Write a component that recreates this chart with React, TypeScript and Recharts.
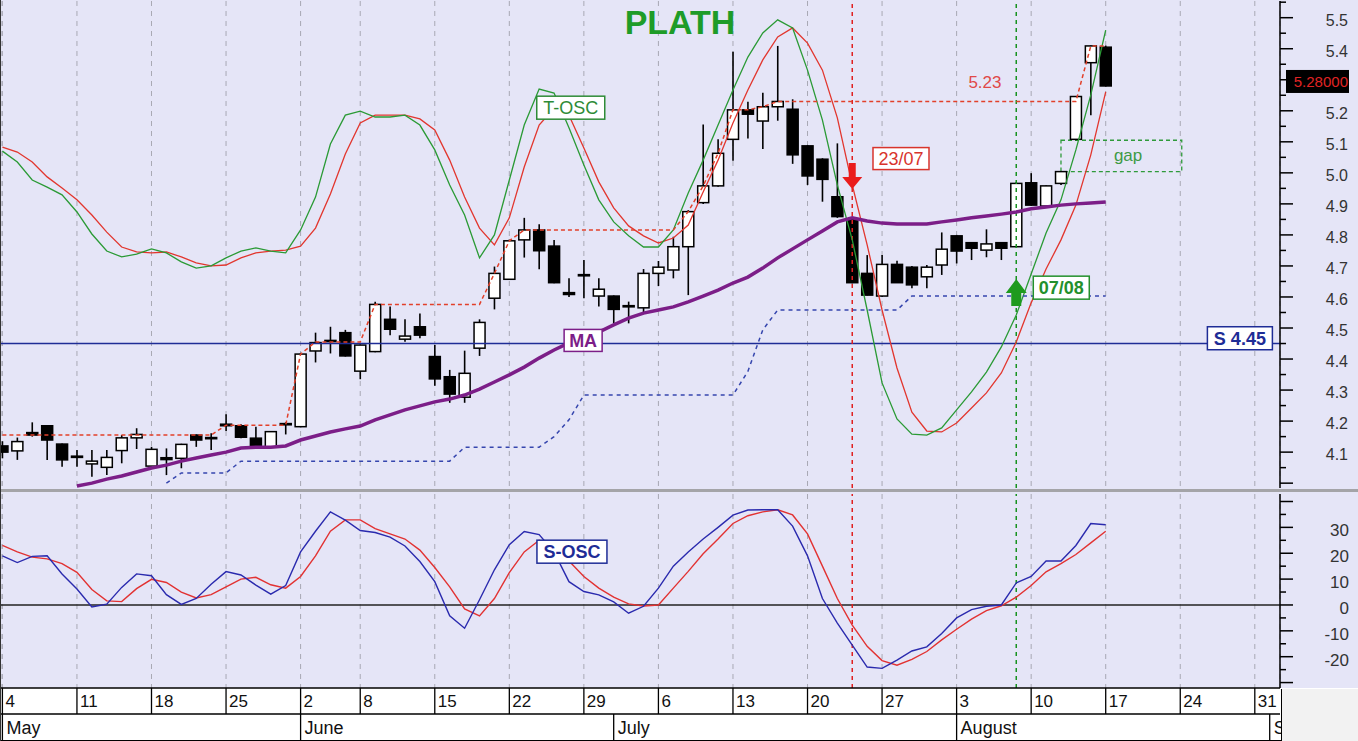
import React from 'react';
import {
  ComposedChart, Bar, Line, XAxis, YAxis, CartesianGrid,
  ReferenceLine, ReferenceDot, ReferenceArea,
} from 'recharts';

const FONT = '"Liberation Sans", Arial, Helvetica, sans-serif';
const BG = '#E5E5F7';

// trading-day index 0 = Mon 4 May
const dayTicks = [0, 5, 10, 15, 20, 24, 29, 34, 39, 44, 49, 54, 59, 64, 69, 74, 79, 84];
const dayLabels = ['4', '11', '18', '25', '2', '8', '15', '22', '29', '6', '13', '20', '27', '3', '10', '17', '24', '31'];
const monthTicks = [0, 20, 41, 64, 85];
const monthLabels = ['May', 'June', 'July', 'August', 'September'];

const opens = [4.12, 4.104, 4.163, 4.185, 4.126, 4.087, 4.062, 4.051, 4.105, 4.146,
  4.055, 4.082, 4.08, 4.155, 4.147, 4.19, 4.185, 4.145, 4.117, 4.188,
  4.182, 4.426, 4.457, 4.485, 4.361, 4.424, 4.528, 4.464, 4.504, 4.408,
  4.343, 4.277, 4.435, 4.596, 4.657, 4.784, 4.816, 4.764, 4.614, 4.67,
  4.603, 4.603, 4.572, 4.565, 4.676, 4.687, 4.762, 4.904, 4.958, 5.108,
  5.203, 5.167, 5.213, 5.205, 5.087, 5.044, 4.923, 4.85, 4.676, 4.603,
  4.705, 4.696, 4.665, 4.703, 4.797, 4.775, 4.751, 4.775, 4.762, 4.968,
  4.893, 4.966, 5.108, 5.355, 5.405];
const highs = [4.135, 4.147, 4.196, 4.187, 4.128, 4.107, 4.107, 4.107, 4.155, 4.177,
  4.117, 4.112, 4.127, 4.157, 4.161, 4.222, 4.19, 4.182, 4.168, 4.196,
  4.42, 4.485, 4.504, 4.494, 4.447, 4.585, 4.569, 4.528, 4.547, 4.445,
  4.365, 4.427, 4.528, 4.698, 4.785, 4.855, 4.834, 4.784, 4.66, 4.719,
  4.66, 4.605, 4.585, 4.69, 4.716, 4.794, 4.88, 5.156, 5.108, 5.39,
  5.229, 5.258, 5.409, 5.237, 5.09, 5.047, 5.095, 4.852, 4.735, 4.735,
  4.717, 4.7, 4.703, 4.808, 4.8, 4.777, 4.818, 4.777, 4.97, 4.999,
  4.96, 5.006, 5.248, 5.41, 5.41];
const lows = [4.08, 4.075, 4.15, 4.075, 4.053, 4.053, 4.021, 4.026, 4.064, 4.11,
  4.053, 4.026, 4.048, 4.117, 4.107, 4.168, 4.145, 4.115, 4.115, 4.157,
  4.18, 4.389, 4.418, 4.408, 4.335, 4.422, 4.477, 4.456, 4.467, 4.314,
  4.259, 4.259, 4.41, 4.56, 4.655, 4.727, 4.689, 4.644, 4.6, 4.596,
  4.569, 4.515, 4.515, 4.55, 4.635, 4.66, 4.606, 4.9, 4.955, 5.039,
  5.111, 5.077, 5.168, 5.029, 4.961, 4.907, 4.855, 4.644, 4.605, 4.6,
  4.645, 4.628, 4.628, 4.671, 4.708, 4.719, 4.728, 4.719, 4.76, 4.894,
  4.89, 4.961, 5.105, 5.186, 5.278];
const closes = [4.1, 4.134, 4.155, 4.139, 4.075, 4.083, 4.071, 4.083, 4.146, 4.157,
  4.109, 4.076, 4.125, 4.139, 4.145, 4.185, 4.148, 4.117, 4.166, 4.192,
  4.416, 4.453, 4.46, 4.41, 4.445, 4.576, 4.496, 4.474, 4.477, 4.336,
  4.287, 4.354, 4.518, 4.676, 4.781, 4.816, 4.749, 4.646, 4.608, 4.672,
  4.625, 4.56, 4.569, 4.676, 4.696, 4.762, 4.875, 4.958, 5.063, 5.203,
  5.189, 5.213, 5.23, 5.058, 4.99, 4.979, 4.859, 4.646, 4.606, 4.705,
  4.646, 4.639, 4.696, 4.754, 4.748, 4.757, 4.771, 4.757, 4.966, 4.896,
  4.958, 5.004, 5.246, 5.409, 5.28];

const maValues = [null, null, null, null, null, 3.991, 4.0, 4.013, 4.023, 4.036,
  4.049, 4.058, 4.071, 4.081, 4.091, 4.1, 4.113, 4.116, 4.116, 4.12,
  4.139, 4.152, 4.165, 4.175, 4.184, 4.204, 4.22, 4.236, 4.249, 4.262,
  4.271, 4.284, 4.303, 4.326, 4.349, 4.374, 4.403, 4.429, 4.452, 4.468,
  4.487, 4.51, 4.532, 4.548, 4.558, 4.568, 4.584, 4.603, 4.622, 4.645,
  4.664, 4.693, 4.726, 4.755, 4.784, 4.813, 4.842, 4.855, 4.845, 4.838,
  4.835, 4.835, 4.835, 4.842, 4.848, 4.855, 4.861, 4.867, 4.874, 4.884,
  4.89, 4.896, 4.9, 4.903, 4.906];

const tOscFast = [5.07, 5.035, 4.977, 4.954, 4.929, 4.874, 4.803, 4.748, 4.729, 4.738,
  4.755, 4.742, 4.713, 4.693, 4.7, 4.726, 4.748, 4.758, 4.748, 4.742,
  4.816, 4.922, 5.093, 5.186, 5.199, 5.18, 5.18, 5.186, 5.154, 5.074,
  4.961, 4.864, 4.726, 4.8, 4.977, 5.154, 5.27, 5.257, 5.145, 5.025,
  4.913, 4.842, 4.797, 4.761, 4.761, 4.816, 4.935, 5.041, 5.154, 5.267,
  5.373, 5.451, 5.493, 5.467, 5.331, 5.17, 4.961, 4.784, 4.558, 4.323,
  4.207, 4.158, 4.155, 4.178, 4.236, 4.294, 4.358, 4.439, 4.542, 4.674,
  4.806, 4.913, 5.074, 5.251, 5.46];
const tOscSlow = [5.083, 5.067, 5.035, 4.987, 4.951, 4.913, 4.864, 4.809, 4.761, 4.745,
  4.742, 4.745, 4.729, 4.71, 4.7, 4.703, 4.726, 4.742, 4.748, 4.751,
  4.764, 4.822, 4.932, 5.061, 5.161, 5.186, 5.186, 5.186, 5.174, 5.138,
  5.041, 4.922, 4.822, 4.768, 4.855, 5.019, 5.154, 5.209, 5.186, 5.08,
  4.971, 4.887, 4.829, 4.797, 4.774, 4.79, 4.832, 4.938, 5.041, 5.161,
  5.267, 5.364, 5.438, 5.467, 5.418, 5.331, 5.177, 4.961, 4.768, 4.558,
  4.371, 4.229, 4.168, 4.165, 4.194, 4.242, 4.291, 4.355, 4.455, 4.581,
  4.69, 4.784, 4.896, 5.058, 5.261];

const resistance = [4.155, 4.155, 4.155, 4.155, 4.155, 4.155, 4.155, 4.155, 4.155, 4.155,
  4.155, 4.155, 4.155, 4.155, 4.155, 4.187, 4.187, 4.187, 4.187, 4.187,
  4.416, 4.455, 4.455, 4.455, 4.455, 4.576, 4.576, 4.576, 4.576, 4.576,
  4.576, 4.576, 4.576, 4.676, 4.781, 4.816, 4.816, 4.816, 4.816, 4.816,
  4.816, 4.816, 4.816, 4.816, 4.816, 4.816, 4.875, 4.958, 5.063, 5.203,
  5.203, 5.213, 5.23, 5.23, 5.23, 5.23, 5.23, 5.23, 5.23, 5.23,
  5.23, 5.23, 5.23, 5.23, 5.23, 5.23, 5.23, 5.23, 5.23, 5.23,
  5.23, 5.23, 5.23, 5.409, 5.409];
const support = [null, null, null, null, null, null, null, null, null, null,
  null, 4.0, 4.033, 4.033, 4.033, 4.033, 4.071, 4.071, 4.071, 4.071,
  4.071, 4.071, 4.071, 4.071, 4.071, 4.071, 4.071, 4.071, 4.071, 4.071,
  4.071, 4.116, 4.116, 4.116, 4.116, 4.116, 4.116, 4.15, 4.204, 4.284,
  4.284, 4.284, 4.284, 4.284, 4.284, 4.284, 4.284, 4.284, 4.284, 4.284,
  4.36, 4.494, 4.558, 4.558, 4.558, 4.558, 4.558, 4.558, 4.558, 4.558,
  4.558, 4.603, 4.603, 4.603, 4.603, 4.603, 4.603, 4.603, 4.603, 4.603,
  4.603, 4.603, 4.603, 4.603, 4.603];

const sOscFast = [19, 16.4, 18.8, 19, 12, 6.2, -0.8, 0.3, 6.8, 12,
  11.3, 4, 0.2, 2.5, 8, 12.9, 11.6, 7.7, 4.2, 7.5,
  20.5, 28.5, 36, 32.8, 28.8, 28, 26.2, 22.8, 16.8, 9,
  -4.2, -9, 2, 13.6, 23.3, 28.4, 27.2, 20.5, 9, 5.2,
  3.9, 1.2, -3.2, -0.5, 6.5, 15, 20.5, 25.5, 30, 34.7,
  36.7, 36.8, 36.8, 30.5, 19, 2.5, -7, -15.5, -24, -24.5,
  -21.3, -17.8, -16.2, -11, -5, -1.8, -0.5, 0, 8.5, 11,
  17, 17, 23, 31.5, 31];
const sOscSlow = [23, 20.5, 18.5, 17.8, 16, 12.6, 6, 1.6, 1.3, 6.3,
  9.9, 8.7, 5, 2.7, 4, 7, 10, 10.7, 7.8, 6.5,
  11, 19, 28.5, 32.9, 32.9, 29.5, 27.5, 25.5, 21.2, 14.5,
  7, -1.5, -4.2, 2.5, 12.5, 20.5, 25, 22.5, 17, 11,
  6.5, 3, 0.4, -0.4, 0, 6.5, 13, 19.8, 25.5, 31.5,
  34.5, 36, 36.8, 34.8, 27.5, 15, 2.5, -7.8, -16, -21.5,
  -23.3, -21, -18, -13.5, -9.4, -5.5, -2.2, -0.3, 3, 7.5,
  12.8, 16, 19.5, 24, 28.5];

const priceTicks = [4.0, 4.05, 4.1, 4.15, 4.2, 4.25, 4.3, 4.35, 4.4, 4.45, 4.5, 4.55, 4.6, 4.65,
  4.7, 4.75, 4.8, 4.85, 4.9, 4.95, 5.0, 5.05, 5.1, 5.15, 5.2, 5.25, 5.3, 5.35, 5.4, 5.45, 5.5, 5.55];
const lastPrice = 5.28;
const oscTicks = [-30, -25, -20, -15, -10, -5, 0, 5, 10, 15, 20, 25, 30, 35, 40];

const X_DOMAIN = [-0.094, 85.69];
const PRICE_DOMAIN = [3.9844, 5.5538];
const OSC_DOMAIN = [-32.1, 42.9];

const data = opens.map((o, i) => ({
  i,
  open: o,
  high: highs[i],
  low: lows[i],
  close: closes[i],
  ma: maValues[i],
  tFast: tOscFast[i],
  tSlow: tOscSlow[i],
  res: resistance[i],
  sup: support[i],
  sFast: sOscFast[i],
  sSlow: sOscSlow[i],
}));

const Candle = (props: any) => {
  let { x, y, width, height, payload } = props;
  if (height < 0) { y += height; height = -height; }
  const { open, close, high, low } = payload;
  const cx = x + width / 2;
  const ppu = height / Math.max(high - low, 1e-6);
  const yOf = (v: number) => y + (high - v) * ppu;
  const top = yOf(Math.max(open, close));
  const bot = yOf(Math.min(open, close));
  const up = close >= open;
  return (
    <g>
      <line x1={cx} x2={cx} y1={y} y2={y + height} stroke="#000" strokeWidth={1.6} />
      <rect x={cx - 5.5} y={top} width={11} height={Math.max(bot - top, 1.2)}
        fill={up ? '#fff' : '#000'} stroke="#000" strokeWidth={1.5} />
    </g>
  );
};

const PriceTick = (props: any) => {
  const { x, y, payload } = props;
  const v = payload.value;
  if (Math.abs(v - lastPrice) < 1e-9) {
    return (
      <g>
        <rect x={x + 6} y={y - 16} width={63} height={23} fill="#000" />
        <text x={x + 68} y={y + 1} textAnchor="end" fontSize={15} fill="#E02424" fontFamily={FONT}>5.28000</text>
      </g>
    );
  }
  const major = Math.abs(v * 10 - Math.round(v * 10)) < 1e-6;
  const hiddenByLast = Math.abs(v - lastPrice) < 0.035;
  return (
    <g>
      <line x1={x} x2={x + (major ? 13 : 6)} y1={y} y2={y} stroke="#000" strokeWidth={1.5} />
      {major && !hiddenByLast && v > 4.05 && v < 5.52 ? (
        <text x={x + 68} y={y + 8} textAnchor="end" fontSize={16} fill="#333" fontFamily={FONT}>{v.toFixed(1)}</text>
      ) : null}
    </g>
  );
};

const OscTick = (props: any) => {
  const { x, y, payload } = props;
  const v = payload.value;
  const major = v % 10 === 0;
  return (
    <g>
      <line x1={x} x2={x + (major ? 13 : 6)} y1={y} y2={y} stroke="#000" strokeWidth={1.5} />
      {major && v >= -20 && v <= 30 ? (
        <text x={x + 69} y={y + 9} textAnchor="end" fontSize={17} fill="#333" fontFamily={FONT}>{String(v)}</text>
      ) : null}
    </g>
  );
};

const DayTick = (props: any) => {
  const { x, y, payload } = props;
  const idx = dayTicks.indexOf(payload.value);
  return (
    <g>
      <line x1={x} x2={x} y1={y} y2={y + 26} stroke="#000" strokeWidth={1.3} />
      <text x={x + 3} y={y + 19} fontSize={17} fill="#111" fontFamily={FONT}>{dayLabels[idx]}</text>
    </g>
  );
};

const MonthTick = (props: any) => {
  const { x, y, payload } = props;
  const idx = monthTicks.indexOf(payload.value);
  return (
    <g>
      <line x1={x} x2={x} y1={y} y2={y + 27} stroke="#000" strokeWidth={1.3} />
      <text x={x + 4} y={y + 20} fontSize={18} fill="#111" fontFamily={FONT}>{monthLabels[idx]}</text>
    </g>
  );
};

const boxLabel = (text: string, w: number, h: number, color: string, fontSize: number, bold: boolean, fill = '#fff') =>
  (p: any) => (
    <g>
      <rect x={p.cx - w / 2} y={p.cy - h / 2} width={w} height={h} fill={fill} stroke={color} strokeWidth={1.5} />
      <text x={p.cx} y={p.cy + fontSize * 0.36} textAnchor="middle" fontSize={fontSize}
        fontWeight={bold ? 'bold' : 'normal'} fill={color} fontFamily={FONT}>{text}</text>
    </g>
  );

const plainText = (text: string, color: string, fontSize: number, bold: boolean) =>
  (p: any) => (
    <text x={p.cx} y={p.cy + fontSize * 0.36} textAnchor="middle" fontSize={fontSize}
      fontWeight={bold ? 'bold' : 'normal'} fill={color} fontFamily={FONT}>{text}</text>
  );

const downArrow = (color: string) => (p: any) => (
  <polygon
    points={`${p.cx - 3.5},${p.cy - 26} ${p.cx + 3.5},${p.cy - 26} ${p.cx + 3.5},${p.cy - 12} ${p.cx + 10},${p.cy - 12} ${p.cx},${p.cy} ${p.cx - 10},${p.cy - 12} ${p.cx - 3.5},${p.cy - 12}`}
    fill={color} />
);

const upArrow = (color: string) => (p: any) => (
  <polygon
    points={`${p.cx},${p.cy} ${p.cx + 10.5},${p.cy + 14} ${p.cx + 5},${p.cy + 14} ${p.cx + 5},${p.cy + 27} ${p.cx - 5},${p.cy + 27} ${p.cx - 5},${p.cy + 14} ${p.cx - 10.5},${p.cy + 14}`}
    fill={color} />
);

const RED = '#E2362E';
const GREEN = '#2A9A35';
const NAVY = '#1E2C96';
const PURPLE = '#7C1E88';

export default function App() {
  return (
    <div style={{ position: 'absolute', left: 0, top: 0, width: 1358, height: 741, background: BG, overflow: 'hidden', fontFamily: FONT }}>
      <div style={{ position: 'absolute', left: 0, top: 688, width: 1358, height: 52, background: '#fff', borderBottom: '1px solid #000' }} />
      <div style={{ position: 'absolute', left: 0, top: 0 }}>
        <ComposedChart width={1358} height={490} data={data} margin={{ top: 1, right: 0, left: 1, bottom: 2 }}>
          <CartesianGrid horizontal={false} stroke="#A8A8B4" strokeDasharray="5 5" fill={BG} />
          <XAxis dataKey="i" type="number" domain={X_DOMAIN} allowDataOverflow ticks={dayTicks} interval={0} hide />
          <YAxis orientation="right" width={78} domain={PRICE_DOMAIN} allowDataOverflow
            ticks={[...priceTicks, lastPrice]} interval={0} tickSize={0} tickMargin={0} tickLine={false}
            tick={(p: any) => <PriceTick {...p} />} axisLine={{ stroke: '#000', strokeWidth: 1.5 }} />
          <ReferenceLine y={4.45} stroke={NAVY} strokeWidth={1.5} />
          <ReferenceLine x={57} stroke="#E02020" strokeDasharray="4 4" strokeWidth={1.5} />
          <ReferenceLine x={68} stroke="#17921F" strokeDasharray="4 4" strokeWidth={1.5} />
          <Bar dataKey={(d: any) => [d.low, d.high]} barSize={11} isAnimationActive={false}
            shape={(p: any) => <Candle {...p} />} />
          <Line dataKey="tSlow" stroke={RED} strokeWidth={1.3} dot={false} activeDot={false} isAnimationActive={false} />
          <Line dataKey="tFast" stroke={GREEN} strokeWidth={1.3} dot={false} activeDot={false} isAnimationActive={false} />
          <Line dataKey="res" stroke="#E2402A" strokeWidth={1.5} strokeDasharray="4 3" dot={false} activeDot={false} isAnimationActive={false} />
          <Line dataKey="sup" stroke="#3646AE" strokeWidth={1.5} strokeDasharray="4 4" dot={false} activeDot={false} isAnimationActive={false} />
          <Line dataKey="ma" stroke={PURPLE} strokeWidth={3.5} dot={false} activeDot={false} isAnimationActive={false} />
          <ReferenceArea x1={71} x2={79.1} y1={5.004} y2={5.105} fill="none" fillOpacity={0}
            stroke="#2E9A3A" strokeDasharray="4 3" strokeWidth={1.3} />
          <ReferenceDot x={75.5} y={5.058} r={0} shape={plainText('gap', '#3E9A45', 17, false)} />
          <ReferenceDot x={45.45} y={5.486} r={0} shape={plainText('PLATH', '#1E9C28', 34, true)} />
          <ReferenceDot x={38.12} y={5.21} r={0} shape={boxLabel('T-OSC', 68, 23, '#2E8B37', 18, false)} />
          <ReferenceDot x={38.95} y={4.46} r={0} shape={boxLabel('MA', 38, 22, PURPLE, 18, true)} />
          <ReferenceDot x={83.0} y={4.467} r={0} shape={boxLabel('S 4.45', 65, 23, NAVY, 18, true)} />
          <ReferenceDot x={65.9} y={5.293} r={0} shape={plainText('5.23', '#E04848', 17, false)} />
          <ReferenceDot x={60.27} y={5.046} r={0} shape={boxLabel('23/07', 56, 22, '#D8342C', 18, false)} />
          <ReferenceDot x={71.02} y={4.63} r={0} shape={boxLabel('07/08', 56, 23, '#23902C', 18, true)} />
          <ReferenceDot x={57} y={4.948} r={0} shape={downArrow('#EA1C1C')} />
          <ReferenceDot x={68} y={4.658} r={0} shape={upArrow('#1E9A1E')} />
        </ComposedChart>
      </div>
      <div style={{ position: 'absolute', left: 0, top: 490 }}>
        <ComposedChart width={1358} height={251} data={data} margin={{ top: 4, right: 0, left: 1, bottom: 0 }}>
          <CartesianGrid horizontal={false} stroke="#A8A8B4" strokeDasharray="5 5" fill={BG} xAxisId="day" />
          <XAxis xAxisId="day" dataKey="i" type="number" domain={X_DOMAIN} allowDataOverflow ticks={dayTicks}
            interval={0} height={26} tickSize={0} tickMargin={0} tickLine={false}
            tick={(p: any) => <DayTick {...p} />} axisLine={{ stroke: '#000', strokeWidth: 1.5 }} />
          <XAxis xAxisId="month" dataKey="i" type="number" domain={X_DOMAIN} allowDataOverflow ticks={monthTicks}
            interval={0} height={27} tickSize={0} tickMargin={0} tickLine={false}
            tick={(p: any) => <MonthTick {...p} />} axisLine={{ stroke: '#000', strokeWidth: 1.5 }} />
          <YAxis orientation="right" width={78} domain={OSC_DOMAIN} allowDataOverflow ticks={oscTicks}
            interval={0} tickSize={0} tickMargin={0} tickLine={false}
            tick={(p: any) => <OscTick {...p} />} axisLine={{ stroke: '#000', strokeWidth: 1.5 }} />
          <ReferenceLine xAxisId="day" y={0} stroke="#222" strokeWidth={1.5} />
          <ReferenceLine xAxisId="day" x={57} stroke="#E02020" strokeDasharray="4 4" strokeWidth={1.5} />
          <ReferenceLine xAxisId="day" x={68} stroke="#17921F" strokeDasharray="4 4" strokeWidth={1.5} />
          <Line xAxisId="day" dataKey="sSlow" stroke="#E23232" strokeWidth={1.4} dot={false} activeDot={false} isAnimationActive={false} />
          <Line xAxisId="day" dataKey="sFast" stroke="#2A2AAE" strokeWidth={1.4} dot={false} activeDot={false} isAnimationActive={false} />
          <ReferenceDot xAxisId="day" x={38.2} y={20.6} r={0} shape={boxLabel('S-OSC', 70, 23, NAVY, 18, true)} />
        </ComposedChart>
      </div>
      <div style={{ position: 'absolute', left: 0, top: 489, width: 1358, height: 3, background: '#A4A4A8' }} />
      <div style={{ position: 'absolute', left: 1281, top: 689, width: 77, height: 52, background: '#F2F2F2', borderLeft: '1px solid #000' }} />
      <div style={{ position: 'absolute', left: 0, top: 0, width: 1, height: 741, background: '#333' }} />
    </div>
  );
}
